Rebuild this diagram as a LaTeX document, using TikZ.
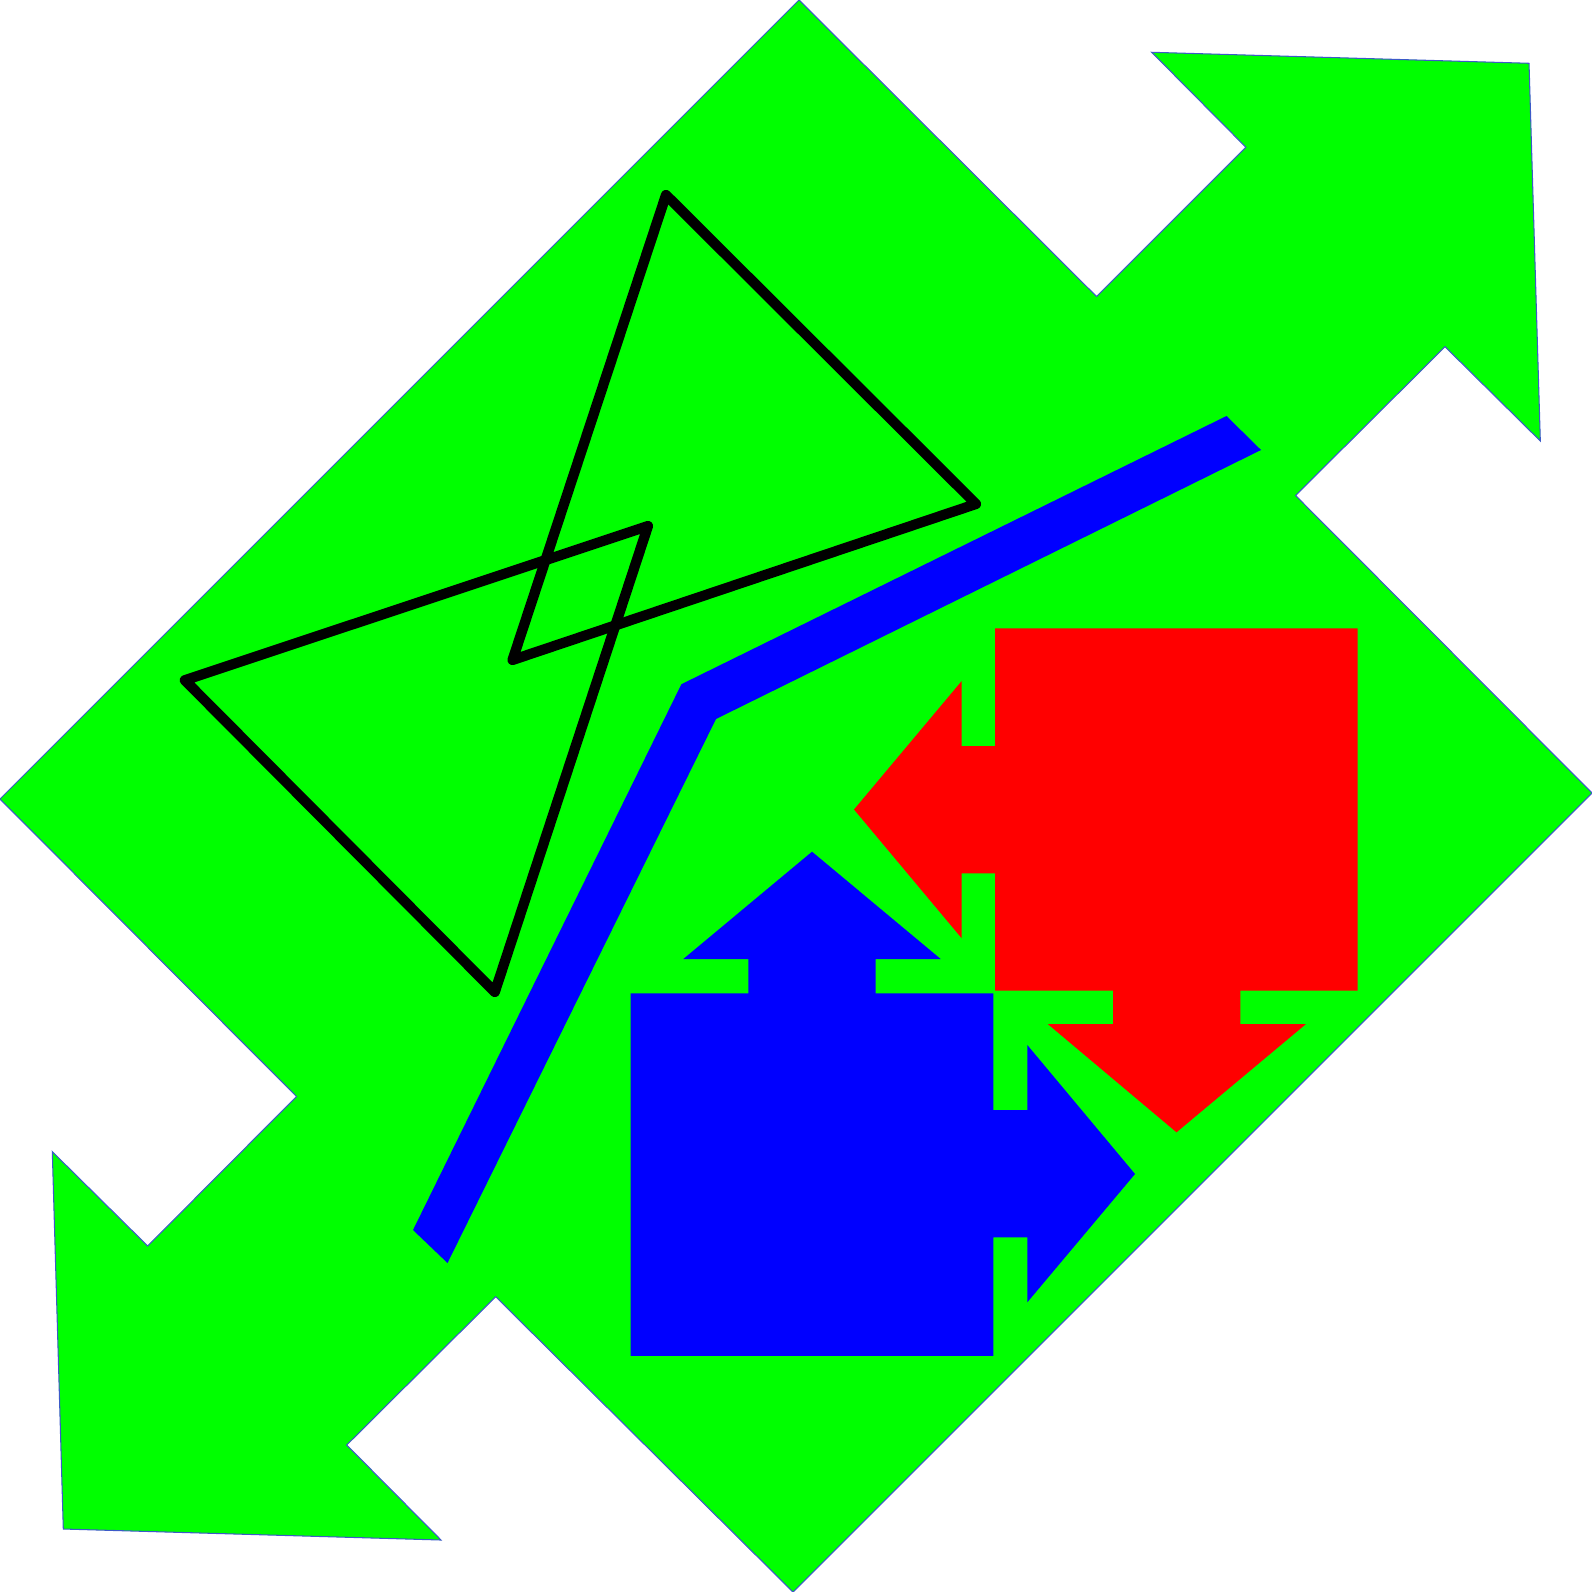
\documentclass[tikz,border=0pt]{standalone}
\usepackage{xcolor}
\usepackage{tikz}
\definecolor{arrowgreen}{RGB}{0,255,0}
\definecolor{edgeblue}{RGB}{60,90,200}
\definecolor{boxred}{RGB}{255,0,0}
\definecolor{boxblue}{RGB}{0,0,255}
\tikzset{
  bigarrow/.style={fill=arrowgreen, draw=edgeblue, line width=0.3pt, line join=miter},
  stripe/.style={fill=boxblue, draw=none},
  redpart/.style={fill=boxred, draw=none},
  bluepart/.style={fill=boxblue, draw=none},
  knot/.style={draw=black, line width=2.9pt, line join=round, line cap=round},
}

\begin{document}
\begin{tikzpicture}[x=0.01cm, y=-0.01cm]
\useasboundingbox (0,0) rectangle (1592,1592);
% ---- green double arrow ----
\path[bigarrow] (799,0) -- (1096.5,296.5) -- (1245.8,147.2) -- (1151.7,52.3)
  -- (1529,63.3) -- (1540.3,441) -- (1445,346.7) -- (1295.5,495.5)
  -- (1592,793) -- (793,1592) -- (495.7,1296.7) -- (346.7,1445)
  -- (441,1540) -- (63.3,1529) -- (52.3,1151.7) -- (147.7,1246)
  -- (296.5,1096.5) -- (0,799) -- cycle;
% ---- blue stripe ----
\path[stripe] (1226.5,416) -- (1261,450) -- (716,719) -- (447.5,1263)
  -- (413,1230) -- (681.4,684.2) -- cycle;
% ---- two crossed triangles ----
\draw[knot] (666,195) -- (976,504) -- (512.5,660) -- cycle;
\draw[knot] (184.8,680.2) -- (648,526) -- (494.8,992) -- cycle;
% ---- red box with left and down arrows ----
\path[redpart] (995,628.3) -- (1357.5,628.3) -- (1357.5,990.7)
  -- (1240.3,990.7) -- (1240.3,1024) -- (1306,1024) -- (1176.5,1132.3)
  -- (1047.7,1024) -- (1113,1024) -- (1113,990.7) -- (995,990.7)
  -- (995,873.3) -- (961.7,873.3) -- (961.7,938.3) -- (854,809.5)
  -- (961.7,681) -- (961.7,746) -- (995,746) -- cycle;
% ---- blue box with up and right arrows ----
\path[bluepart] (630.7,993.3) -- (748.3,993.3) -- (748.3,959) -- (683.3,959)
  -- (812,851.7) -- (940.7,959) -- (875.7,959) -- (875.7,993.3)
  -- (993.3,993.3) -- (993.3,1110) -- (1027.3,1110) -- (1027.3,1045)
  -- (1135,1174) -- (1027.3,1302.3) -- (1027.3,1237.3) -- (993.3,1237.3)
  -- (993.3,1355.8) -- (630.7,1355.8) -- cycle;
\end{tikzpicture}
\end{document}
